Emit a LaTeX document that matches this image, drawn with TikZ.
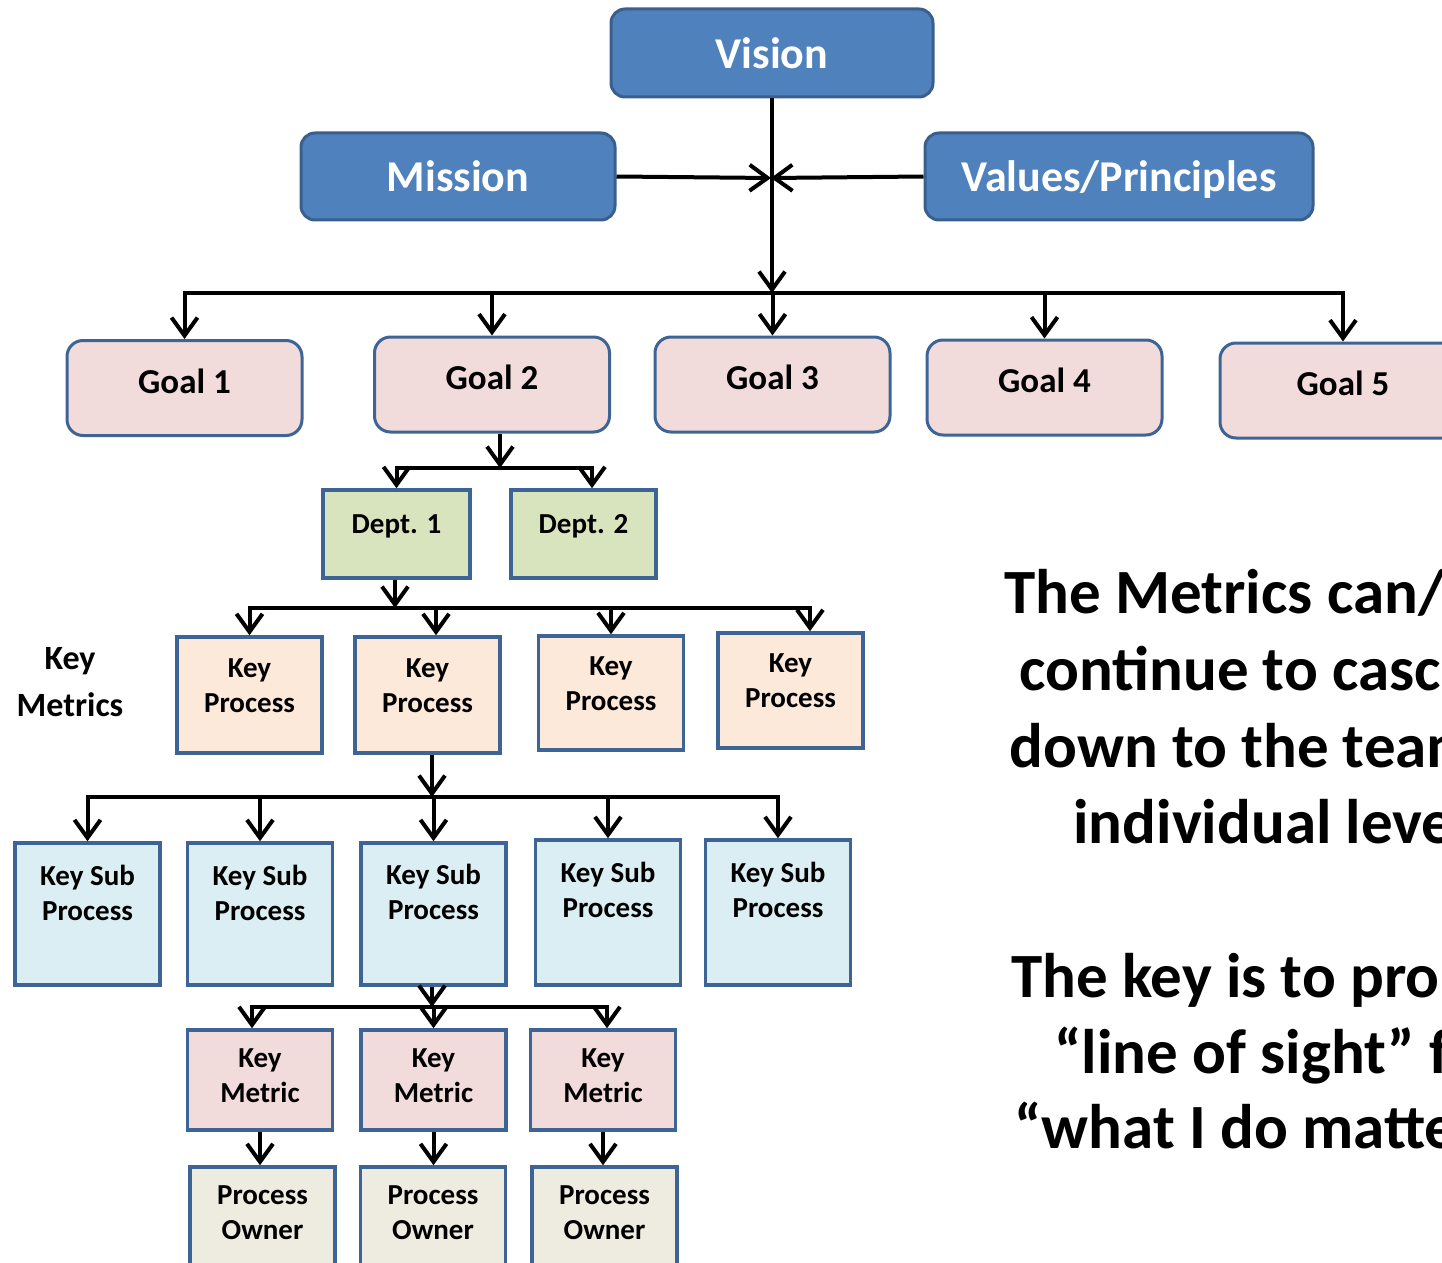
\documentclass[tikz,border=0pt]{standalone}
\usepackage{fontspec}
\setmainfont{Carlito}
\usetikzlibrary{arrows.meta}
\definecolor{topfill}{HTML}{4F81BD}
\definecolor{topbord}{HTML}{3A5F8C}
\definecolor{bord}{HTML}{3D6495}
\definecolor{goalfill}{HTML}{F2DCDB}
\definecolor{deptfill}{HTML}{D7E4BD}
\definecolor{kpfill}{HTML}{FDE9D9}
\definecolor{kspfill}{HTML}{DBEEF3}
\definecolor{kmfill}{HTML}{F2DCDB}
\definecolor{pofill}{HTML}{EEECE1}
\begin{document}
\begin{tikzpicture}[x=0.5pt,y=-0.5pt,
  conn/.style={line width=2pt,line cap=rect},
  arr/.style={line width=2pt,-{Straight Barb[length=9pt,width=13pt]}},
  topbox/.style={draw=topbord,fill=topfill,line width=1.5pt,rounded corners=7pt,inner sep=0pt,text=white,text depth=0pt,font=\bfseries\fontsize{22}{26}\selectfont},
  goalbox/.style={draw=bord,fill=goalfill,line width=1.5pt,rounded corners=8pt,inner sep=0pt,minimum width=117.5pt,minimum height=47.5pt},
  sqbox/.style={draw=bord,line width=1.75pt,inner sep=0pt,minimum width=72.5pt},
  glbl/.style={font=\bfseries\fontsize{17.5}{21}\selectfont,inner sep=0pt,yshift=3.5pt},
  blbl/.style={font=\bfseries\fontsize{14.5}{17.5}\selectfont,align=center,inner sep=0pt},
  rtext/.style={font=\bfseries\fontsize{31.5}{38.5}\selectfont,inner sep=0pt,anchor=base west},
  sidelbl/.style={font=\bfseries\fontsize{17}{23.5}\selectfont,align=center,inner sep=0pt},
]
\useasboundingbox (0,0) rectangle (1442,1263);
\clip (0,0) rectangle (1442,1263);

% top level
\node[topbox,minimum width=161pt,minimum height=44pt] (vision) at (772,53) {Vision};
\node[topbox,minimum width=157pt,minimum height=43.5pt] (mission) at (458,176.5) {Mission};
\node[topbox,minimum width=194pt,minimum height=43.5pt] (values) at (1119,176.5) {Values/Principles};

% goals
\node[goalbox,label={[glbl]center:Goal 1}] (g1) at (184.5,388) {};
\node[goalbox,label={[glbl]center:Goal 2}] (g2) at (492,384.5) {};
\node[goalbox,label={[glbl]center:Goal 3}] (g3) at (772.5,384.5) {};
\node[goalbox,label={[glbl]center:Goal 4}] (g4) at (1044.5,387.5) {};
\node[goalbox,minimum width=123pt,label={[glbl]center:Goal 5}] (g5) at (1343,390.5) {};

% departments
\node[sqbox,fill=deptfill,minimum width=73.5pt,minimum height=44pt,label={[blbl,yshift=4pt]center:Dept. 1}] (d1) at (396.5,534) {};
\node[sqbox,fill=deptfill,minimum width=72.5pt,minimum height=44pt,label={[blbl,yshift=4pt]center:Dept. 2}] (d2) at (583.5,534) {};

% key metrics side label
\node[sidelbl] (kmlabel) at (70,682.5) {Key\\Metrics};

% key processes
\node[sqbox,fill=kpfill,minimum height=58pt,label={[blbl,yshift=4.7pt]center:{Key\\Process}}] (kp1) at (249.5,695) {};
\node[sqbox,fill=kpfill,minimum height=58pt,label={[blbl,yshift=4.7pt]center:{Key\\Process}}] (kp2) at (427.5,695) {};
\node[sqbox,fill=kpfill,minimum height=57pt,label={[blbl,yshift=4.7pt]center:{Key\\Process}}] (kp3) at (611,693) {};
\node[sqbox,fill=kpfill,minimum height=57.5pt,label={[blbl,yshift=4.7pt]center:{Key\\Process}}] (kp4) at (790.5,690.5) {};

% key sub processes
\node[sqbox,fill=kspfill,minimum height=71pt,label={[blbl,yshift=10.5pt]center:{Key Sub\\Process}}] (ksp1) at (87.5,914) {};
\node[sqbox,fill=kspfill,minimum height=71pt,label={[blbl,yshift=10.5pt]center:{Key Sub\\Process}}] (ksp2) at (260,914) {};
\node[sqbox,fill=kspfill,minimum height=71pt,label={[blbl,yshift=11.2pt]center:{Key Sub\\Process}}] (ksp3) at (433.5,914) {};
\node[sqbox,fill=kspfill,minimum height=72.5pt,label={[blbl,yshift=11.2pt]center:{Key Sub\\Process}}] (ksp4) at (608,912.5) {};
\node[sqbox,fill=kspfill,minimum height=72.5pt,label={[blbl,yshift=11.2pt]center:{Key Sub\\Process}}] (ksp5) at (778,912.5) {};

% key metrics
\node[sqbox,fill=kmfill,minimum height=50pt,label={[blbl,yshift=2pt]center:{Key\\Metric}}] (km1) at (260,1080) {};
\node[sqbox,fill=kmfill,minimum height=50pt,label={[blbl,yshift=2pt]center:{Key\\Metric}}] (km2) at (433.5,1080) {};
\node[sqbox,fill=kmfill,minimum height=50pt,label={[blbl,yshift=2pt]center:{Key\\Metric}}] (km3) at (603,1080) {};

% process owners
\node[sqbox,fill=pofill,minimum height=54pt,label={[blbl,yshift=4pt]center:{Process\\Owner}}] (po1) at (262.5,1221) {};
\node[sqbox,fill=pofill,minimum height=54pt,label={[blbl,yshift=4pt]center:{Process\\Owner}}] (po2) at (433,1221) {};
\node[sqbox,fill=pofill,minimum height=54pt,label={[blbl,yshift=4pt]center:{Process\\Owner}}] (po3) at (604.5,1221) {};

% connectors: top
\coordinate (cross) at (771,178);
\coordinate (gbar) at (771,293);
\draw[arr] (mission.east) -- (cross);
\draw[arr] (values.west) -- (cross);
\draw[arr] (vision.south) -- (vision.south |- gbar);
\draw[conn] (g1.north |- gbar) -- (g5.north |- gbar);
\foreach \n in {g1,g2,g3,g4,g5} \draw[arr] (\n.north |- gbar) -- (\n.north);

% goal 2 to departments
\coordinate (dbar) at (500,468);
\coordinate (d2drop) at (592,468);
\draw[arr] (g2.south -| dbar) -- (dbar);
\draw[conn] (d1.north |- dbar) -- (d2drop);
\draw[arr] (d1.north |- dbar) -- (d1.north);
\draw[arr] (d2drop) -- (d2.north -| d2drop);

% dept 1 to key processes
\coordinate (kbar) at (395,608);
\coordinate (kp2drop) at (436,608);
\coordinate (kp4drop) at (810,608);
\draw[arr] (d1.south -| kbar) -- (kbar);
\draw[conn] (kp1.north |- kbar) -- (kp4drop);
\draw[arr] (kp1.north |- kbar) -- (kp1.north);
\draw[arr] (kp2drop) -- (kp2.north -| kp2drop);
\draw[arr] (kp3.north |- kbar) -- (kp3.north);
\draw[arr] (kp4drop) -- (kp4.north -| kp4drop);

% key process 2 to key sub processes
\coordinate (sbar) at (432,797);
\draw[arr] (kp2.south -| sbar) -- (sbar);
\draw[conn] (ksp1.north |- sbar) -- (ksp5.north |- sbar);
\foreach \n in {ksp1,ksp2,ksp3,ksp4,ksp5} \draw[arr] (\n.north |- sbar) -- (\n.north);

% key sub process 3 to key metrics
\coordinate (mbar) at (432,1007);
\coordinate (km1drop) at (252,1007);
\coordinate (km3drop) at (607,1007);
\draw[arr] (ksp3.south -| mbar) -- (mbar);
\draw[conn] (km1drop) -- (km3drop);
\draw[arr] (km1drop) -- (km1.north -| km1drop);
\draw[arr] (km2.north |- mbar) -- (km2.north);
\draw[arr] (km3drop) -- (km3.north -| km3drop);

% key metrics to process owners
\draw[arr] (km1.south) -- (km1.south |- po1.north);
\draw[arr] (km2.south) -- (km2.south |- po2.north);
\draw[arr] (km3.south) -- (km3.south |- po3.north);

% right-hand text
\node[rtext] (t1) at (1004,613) {The Metrics can/};
\node[rtext] (t2) at (1019,690) {continue to casc};
\node[rtext] (t3) at (1009,767) {down to the team};
\node[rtext] (t4) at (1073,843) {individual leve};
\node[rtext] (t5) at (1011,997) {The key is to pro};
\node[rtext] (t6) at (1054,1073) {“line of sight” f};
\node[rtext] (t7) at (1014,1148) {“what I do matte};
\end{tikzpicture}
\end{document}
